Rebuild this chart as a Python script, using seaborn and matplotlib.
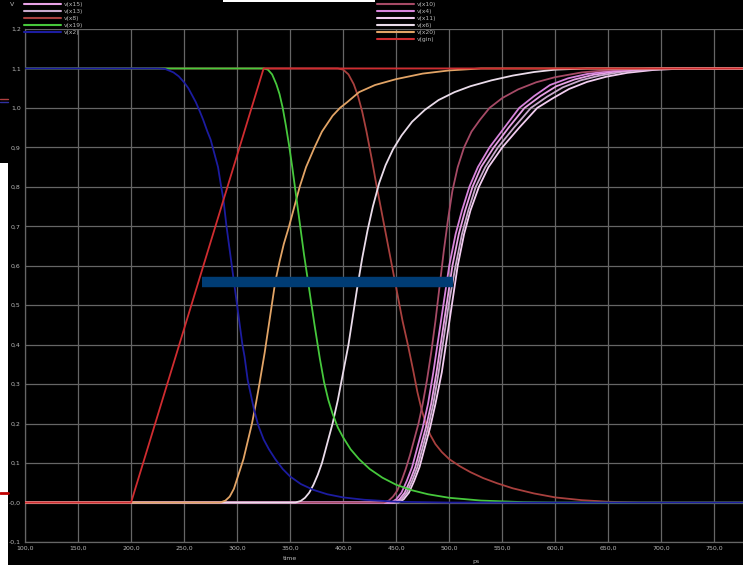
import matplotlib
matplotlib.use("Agg")
import matplotlib.pyplot as plt
from matplotlib.lines import Line2D
from matplotlib.patches import Rectangle
import seaborn as sns
import pandas as pd

# ---- transient waveforms (time in ps, voltage in V) ----
t_gin = [100, 200, 325, 780]
v_gin = [0.0, 0.0, 1.1, 1.1]

t_x2 = [100, 225, 232, 240, 245, 250, 254, 258, 261, 265, 268, 272, 275, 279, 282,
        285, 287, 290, 292, 295, 297, 300, 302, 305, 307, 310, 312, 316, 320, 325,
        330, 336, 343, 350, 360, 372, 385, 400, 420, 450, 500, 780]
v_x2 = [1.1, 1.1, 1.099, 1.09, 1.08, 1.065, 1.05, 1.03, 1.015, 0.99, 0.97, 0.94,
        0.92, 0.88, 0.85, 0.8, 0.77, 0.7, 0.66, 0.6, 0.56, 0.5, 0.46, 0.4, 0.37,
        0.31, 0.285, 0.235, 0.195, 0.16, 0.135, 0.11, 0.085, 0.066, 0.047, 0.032,
        0.021, 0.013, 0.007, 0.002, 0.0, 0.0]

t_x19 = [100, 325, 329, 333, 337, 340, 343, 346, 349, 352, 355, 358, 363, 368, 373,
         378, 382, 386, 390, 395, 400, 407, 415, 425, 437, 450, 465, 480, 500, 530,
         570, 600, 780]
v_x19 = [1.1, 1.1, 1.097, 1.085, 1.06, 1.035, 1.0, 0.955, 0.905, 0.85, 0.79, 0.73,
         0.63, 0.54, 0.45, 0.365, 0.305, 0.26, 0.225, 0.19, 0.165, 0.135, 0.11,
         0.085, 0.063, 0.045, 0.031, 0.021, 0.012, 0.005, 0.001, 0.0, 0.0]

t_x20 = [100, 284, 289, 293, 297, 300, 303, 306, 310, 314, 318, 321, 326, 331, 336,
         340, 344, 349, 354, 359, 365, 373, 380, 390, 397, 404, 415, 430, 450, 475,
         500, 530, 780]
v_x20 = [0.0, 0.0, 0.005, 0.015, 0.035, 0.06, 0.085, 0.11, 0.155, 0.2, 0.255, 0.3,
         0.38, 0.47, 0.56, 0.61, 0.655, 0.7, 0.75, 0.8, 0.85, 0.9, 0.94, 0.98, 1.0,
         1.015, 1.04, 1.058, 1.073, 1.087, 1.095, 1.1, 1.1]

t_x8 = [100, 395, 400, 405, 410, 414, 418, 422, 427, 431, 436, 441, 446, 451, 456,
        461, 466, 470, 474, 478, 482, 487, 493, 500, 510, 520, 532, 545, 560, 580,
        600, 625, 650, 680, 780]
v_x8 = [1.1, 1.1, 1.097, 1.085, 1.06, 1.03, 0.99, 0.94, 0.87, 0.81, 0.74, 0.67,
        0.6, 0.53, 0.46, 0.4, 0.335, 0.28, 0.235, 0.2, 0.172, 0.148, 0.128, 0.11,
        0.092, 0.077, 0.062, 0.049, 0.036, 0.023, 0.013, 0.006, 0.002, 0.0, 0.0]

t_x6 = [100, 355, 360, 364, 368, 372, 376, 380, 385, 390, 395, 400, 405, 409, 413,
        418, 423, 428, 434, 440, 447, 455, 465, 477, 490, 505, 520, 540, 560, 580,
        600, 630, 780]
v_x6 = [0.0, 0.0, 0.004, 0.012, 0.025, 0.045, 0.07, 0.1, 0.15, 0.2, 0.26, 0.33, 0.4,
        0.47, 0.54, 0.62, 0.69, 0.75, 0.81, 0.855, 0.895, 0.93, 0.965, 0.995, 1.02,
        1.04, 1.055, 1.07, 1.082, 1.091, 1.097, 1.1, 1.1]

t_x10 = [100, 438, 443, 447, 451, 455, 459, 463, 467, 471, 475, 479, 483, 487, 491,
         495, 499, 503, 508, 514, 521, 529, 538, 550, 565, 582, 600, 625, 655, 690, 780]
v_x10 = [0.0, 0.0, 0.005, 0.015, 0.03, 0.055, 0.085, 0.12, 0.16, 0.2, 0.25, 0.31,
         0.38, 0.46, 0.55, 0.64, 0.72, 0.79, 0.85, 0.9, 0.94, 0.97, 1.0, 1.025,
         1.047, 1.065, 1.078, 1.09, 1.097, 1.1, 1.1]

t_x4 = [100, 445, 450, 455, 460, 465, 470, 475, 480, 485, 490, 495, 500, 506, 512,
        519, 527, 538, 552, 566, 580, 595, 612, 630, 650, 670, 700, 780]
v_x4 = [0.0, 0.0, 0.008, 0.025, 0.055, 0.09, 0.14, 0.19, 0.25, 0.33, 0.42, 0.51,
        0.6, 0.68, 0.74, 0.8, 0.85, 0.9, 0.95, 1.0, 1.03, 1.058, 1.075, 1.086,
        1.093, 1.098, 1.1, 1.1]

t_x15 = [100, 448, 453, 458, 463, 468, 473, 478, 483, 488, 493, 498, 503, 509, 515,
         522, 530, 542, 556, 571, 586, 601, 618, 636, 656, 678, 708, 780]
v_x15 = [0.0, 0.0, 0.008, 0.025, 0.055, 0.09, 0.14, 0.19, 0.25, 0.33, 0.42, 0.51,
         0.6, 0.68, 0.74, 0.8, 0.85, 0.9, 0.95, 1.0, 1.03, 1.055, 1.072, 1.084,
         1.092, 1.097, 1.1, 1.1]

t_x13 = [100, 450, 455, 460, 465, 470, 475, 480, 485, 490, 495, 500, 506, 512, 518,
         525, 534, 546, 561, 577, 592, 607, 624, 642, 662, 685, 715, 780]
v_x13 = [0.0, 0.0, 0.008, 0.025, 0.055, 0.09, 0.14, 0.19, 0.25, 0.33, 0.42, 0.51,
         0.6, 0.68, 0.74, 0.8, 0.85, 0.9, 0.95, 1.0, 1.028, 1.052, 1.07, 1.082,
         1.091, 1.097, 1.1, 1.1]

t_x11 = [100, 452, 457, 462, 467, 472, 477, 482, 487, 493, 498, 503, 508, 514, 520,
         528, 537, 550, 566, 583, 598, 613, 630, 648, 668, 692, 722, 780]
v_x11 = [0.0, 0.0, 0.008, 0.025, 0.055, 0.09, 0.14, 0.19, 0.25, 0.33, 0.42, 0.51,
         0.6, 0.68, 0.74, 0.8, 0.85, 0.9, 0.95, 1.0, 1.025, 1.048, 1.066, 1.079,
         1.089, 1.096, 1.1, 1.1]

# delay marker bar (from 50 % of the input to 50 % of the last stage)
delay_start, delay_end, delay_level = 267, 504, 0.558

# axis ticks
x_ticks = [100, 150, 200, 250, 300, 350, 400, 450, 500, 550, 600, 650, 700, 750]
x_tick_labels = ["100,0", "150,0", "200,0", "250,0", "300,0", "350,0", "400,0",
                 "450,0", "500,0", "550,0", "600,0", "650,0", "700,0", "750,0"]
y_ticks = [-0.1, 0.0, 0.1, 0.2, 0.3, 0.4, 0.5, 0.6, 0.7, 0.8, 0.9, 1.0, 1.1, 1.2]
y_tick_labels = ["-0,1", "-0,0", "0,1", "0,2", "0,3", "0,4", "0,5", "0,6", "0,7",
                 "0,8", "0,9", "1,0", "1,1", "1,2"]

# legend blocks as shown in the viewer header
legend_left = ["v(x15)", "v(x13)", "v(x8)", "v(x19)", "v(x2)"]
legend_right = ["v(x10)", "v(x4)", "v(x11)", "v(x6)", "v(x20)", "v(gin)"]

colors = {
    "v(x15)": "#e8a2e6",
    "v(x13)": "#c9a9cc",
    "v(x8)": "#a8403e",
    "v(x19)": "#46c83c",
    "v(x2)": "#1c1ca0",
    "v(x10)": "#a64a66",
    "v(x4)": "#d884dc",
    "v(x11)": "#f2cdf0",
    "v(x6)": "#eadcea",
    "v(x20)": "#e2a466",
    "v(gin)": "#d02c30",
}

series = {
    "v(x8)": (t_x8, v_x8),
    "v(x11)": (t_x11, v_x11),
    "v(x13)": (t_x13, v_x13),
    "v(x15)": (t_x15, v_x15),
    "v(x4)": (t_x4, v_x4),
    "v(x10)": (t_x10, v_x10),
    "v(x6)": (t_x6, v_x6),
    "v(x20)": (t_x20, v_x20),
    "v(x19)": (t_x19, v_x19),
    "v(x2)": (t_x2, v_x2),
    "v(gin)": (t_gin, v_gin),
}
draw_order = list(series.keys())

frames = []
for name, (tt, vv) in series.items():
    frames.append(pd.DataFrame({"time": tt, "voltage": vv, "signal": name}))
df = pd.concat(frames, ignore_index=True)

sns.set_theme(style="dark")
plt.rcParams["font.family"] = ["DejaVu Sans"]

fig = plt.figure(figsize=(7.43, 5.65), dpi=100, facecolor="black")
ax = fig.add_axes([25 / 743, 23 / 565, 718 / 743, 513 / 565])
ax.set_facecolor("black")

grid_c = "#666666"
for xv in x_ticks:
    ax.axvline(xv, color=grid_c, lw=0.9, zorder=0)
for yv in y_ticks:
    ax.axhline(yv, color=grid_c, lw=0.9, zorder=0)

sns.lineplot(data=df, x="time", y="voltage", hue="signal", hue_order=draw_order,
             palette=colors, units="signal", estimator=None, sort=False,
             legend=False, lw=1.3, ax=ax, zorder=3)

ax.plot([delay_start, delay_end], [delay_level, delay_level], color="#003c74",
        lw=7.5, solid_capstyle="butt", zorder=5)

ax.set_xlim(100, 777)
ax.set_ylim(-0.1, 1.2)
ax.set_xticks(x_ticks)
ax.set_xticklabels(x_tick_labels)
ax.set_yticks(y_ticks)
ax.set_yticklabels(y_tick_labels)
ax.tick_params(colors="#b8b8b8", labelsize=4.5, length=0, pad=3)
ax.set_xlabel("")
ax.set_ylabel("")
for side, sp in ax.spines.items():
    sp.set_visible(side in ("left", "bottom"))
    sp.set_color(grid_c)
    sp.set_linewidth(0.9)

txt_c = "#b8b8b8"
fig.text(12 / 743, 1 - 5 / 565, "V", color=txt_c, fontsize=4.5, ha="center", va="center")
fig.text(290 / 743, 1 - 558 / 565, "time", color=txt_c, fontsize=4.5, ha="center", va="center")
fig.text(476 / 743, 1 - 561 / 565, "ps", color=txt_c, fontsize=4.5, ha="center", va="center")


def legend_block(names, x0, y0):
    handles = [Line2D([], [], color=colors[n], lw=1.5) for n in names]
    leg = fig.legend(handles, names, loc="upper left", bbox_to_anchor=(x0, y0),
                     bbox_transform=fig.transFigure, frameon=False, fontsize=4.3,
                     handlelength=6.2, handletextpad=0.4, labelspacing=0.3,
                     borderpad=0, borderaxespad=0)
    for t in leg.get_texts():
        t.set_color(txt_c)
    return leg


legend_block(legend_left, 24 / 743, 1 - 2 / 565)
legend_block(legend_right, 377 / 743, 1 - 2 / 565)

# slide background showing at the edges of the screenshot
fig.patches.append(Rectangle((0, 0), 8 / 743, 402 / 565, transform=fig.transFigure,
                             facecolor="white", edgecolor="none", zorder=10))
fig.add_artist(Line2D([0, 8 / 743], [1 - 493 / 565, 1 - 493 / 565],
                      transform=fig.transFigure, color="#c00000", lw=2, zorder=11))
fig.add_artist(Line2D([0, 8 / 743], [1 - 99 / 565, 1 - 99 / 565],
                      transform=fig.transFigure, color="#b04040", lw=1, zorder=11))
fig.add_artist(Line2D([0, 8 / 743], [1 - 102 / 565, 1 - 102 / 565],
                      transform=fig.transFigure, color="#3030a0", lw=1, zorder=11))
fig.patches.append(Rectangle((223 / 743, 1 - 2 / 565), 152 / 743, 2 / 565,
                             transform=fig.transFigure, facecolor="white",
                             edgecolor="none", zorder=10))

fig.savefig("out.png", dpi=100, facecolor="black")
